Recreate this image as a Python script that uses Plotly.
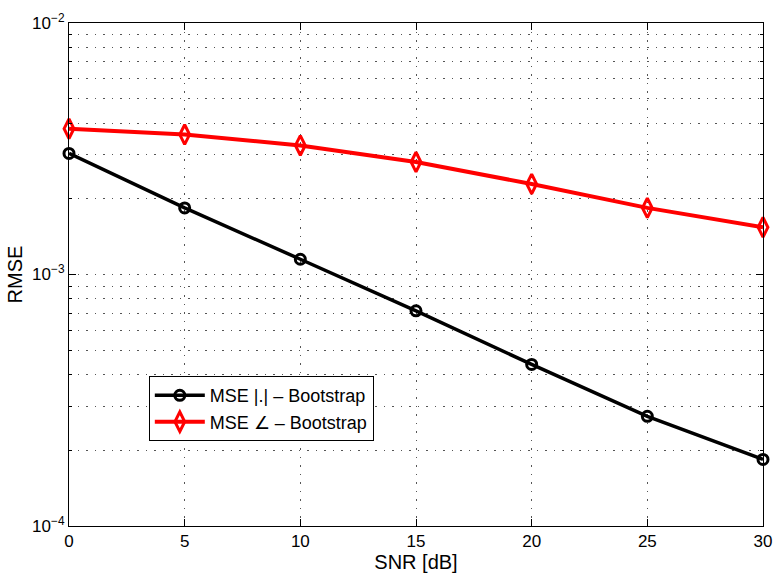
import plotly.graph_objects as go

snr = [0, 5, 10, 15, 20, 25, 30]
mse_abs = [3.03e-3, 1.84e-3, 1.15e-3, 7.17e-4, 4.39e-4, 2.73e-4, 1.84e-4]
mse_ang = [3.80e-3, 3.60e-3, 3.26e-3, 2.80e-3, 2.29e-3, 1.84e-3, 1.54e-3]
x_ticks = [0, 5, 10, 15, 20, 25, 30]
y_major = [1e-4, 1e-3, 1e-2]
y_major_text = ["10<sup>\u22124</sup>", "10<sup>\u22123</sup>", "10<sup>\u22122</sup>"]
y_minor = [m * 10.0 ** e for e in (-4, -3) for m in range(2, 10)]
names = ["MSE |.| \u2013 Bootstrap", "MSE \u2220 \u2013 Bootstrap"]

fig = go.Figure()
fig.add_trace(go.Scatter(
    x=snr, y=mse_abs, mode="lines+markers", name=names[0], cliponaxis=False,
    line=dict(color="black", width=3.5),
    marker=dict(symbol="circle-open", size=10, color="black", line=dict(width=3)),
))
fig.add_trace(go.Scatter(
    x=snr, y=mse_ang, mode="lines+markers", name=names[1], cliponaxis=False,
    line=dict(color="#ff0000", width=4),
    marker=dict(symbol="diamond-tall-open", size=14, color="#ff0000", line=dict(width=3)),
))

GRID_COLOR = "#555555"
GRID_DASH = "1.5px,7px"

fig.update_layout(
    width=773, height=576,
    margin=dict(l=69, r=10, t=23, b=50),
    paper_bgcolor="white", plot_bgcolor="white",
    font=dict(family="Liberation Sans, Arial, sans-serif", size=17, color="black"),
    showlegend=True,
    legend=dict(
        x=0.115, y=0.298, xanchor="left", yanchor="top",
        bordercolor="black", borderwidth=1, bgcolor="white",
        font=dict(size=18), tracegroupgap=0, itemwidth=50,
    ),
    xaxis=dict(
        range=[0, 30], tickvals=x_ticks, title=dict(text="SNR [dB]", standoff=0),
        showline=True, linecolor="black", linewidth=1, mirror="ticks",
        ticks="inside", ticklen=7, tickcolor="black", zeroline=False,
        ticklabeloverflow="allow", automargin=False,
        showgrid=True, gridcolor=GRID_COLOR, gridwidth=1, griddash=GRID_DASH,
    ),
    yaxis=dict(
        type="log", range=[-4, -2], tickvals=y_major, ticktext=y_major_text,
        title=dict(text="RMSE", standoff=4), automargin=False,
        showline=True, linecolor="black", linewidth=1, mirror="ticks",
        ticks="inside", ticklen=7, tickcolor="black", zeroline=False,
        showgrid=True, gridcolor=GRID_COLOR, gridwidth=1, griddash=GRID_DASH,
        minor=dict(tickvals=y_minor, ticks="inside", ticklen=3, tickcolor="black",
                   showgrid=True, gridcolor=GRID_COLOR, gridwidth=1, griddash=GRID_DASH),
    ),
)

fig.write_html(
    "out.html",
    config={"displayModeBar": False},
    post_script="document.body.style.margin='0px';document.body.style.padding='0px';",
)
